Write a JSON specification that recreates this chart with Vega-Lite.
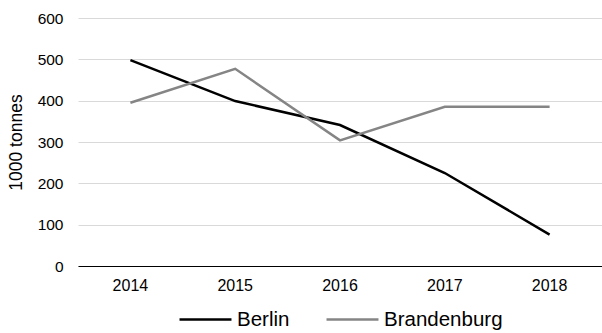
{
  "$schema": "https://vega.github.io/schema/vega-lite/v6.json",
  "width": 524,
  "height": 248,
  "autosize": {"type": "none"},
  "padding": {"left": 78, "top": 18, "right": 0, "bottom": 67},
  "background": "white",
  "config": {
    "view": {"stroke": null},
    "font": "Liberation Sans"
  },
  "data": {
    "values": [
      {"year": "2014", "series": "Berlin", "value": 498},
      {"year": "2015", "series": "Berlin", "value": 399},
      {"year": "2016", "series": "Berlin", "value": 341},
      {"year": "2017", "series": "Berlin", "value": 225},
      {"year": "2018", "series": "Berlin", "value": 76},
      {"year": "2014", "series": "Brandenburg", "value": 395},
      {"year": "2015", "series": "Brandenburg", "value": 477},
      {"year": "2016", "series": "Brandenburg", "value": 304},
      {"year": "2017", "series": "Brandenburg", "value": 385},
      {"year": "2018", "series": "Brandenburg", "value": 385}
    ]
  },
  "mark": {"type": "line", "strokeWidth": 2.5},
  "encoding": {
    "x": {
      "field": "year",
      "type": "nominal",
      "scale": {"type": "band", "paddingInner": 0, "paddingOuter": 0},
      "axis": {
        "title": null,
        "labelAngle": 0,
        "labelFontSize": 16,
        "labelColor": "#000000",
        "labelPadding": 11,
        "ticks": false,
        "domain": true,
        "domainColor": "#000000",
        "domainWidth": 1.2,
        "grid": false
      }
    },
    "y": {
      "field": "value",
      "type": "quantitative",
      "scale": {"domain": [0, 600], "nice": false},
      "axis": {
        "title": "1000 tonnes",
        "titleFontSize": 17.5,
        "titleFontWeight": "normal",
        "titleColor": "#000000",
        "titlePadding": 12,
        "values": [0, 100, 200, 300, 400, 500, 600],
        "labelFontSize": 15.5,
        "labelColor": "#000000",
        "labelPadding": 15,
        "ticks": false,
        "domain": false,
        "grid": true,
        "gridColor": "#d9d9d9",
        "gridWidth": 1
      }
    },
    "color": {
      "field": "series",
      "type": "nominal",
      "scale": {"domain": ["Berlin", "Brandenburg"], "range": ["#000000", "#858585"]},
      "legend": {
        "title": null,
        "orient": "none",
        "legendX": 100,
        "legendY": 274,
        "padding": 0,
        "direction": "horizontal",
        "symbolType": "stroke",
        "symbolSize": 2700,
        "symbolStrokeWidth": 2.5,
        "labelFontSize": 20.5,
        "labelColor": "#000000",
        "labelOffset": 4,
        "columnPadding": 31
      }
    }
  }
}
